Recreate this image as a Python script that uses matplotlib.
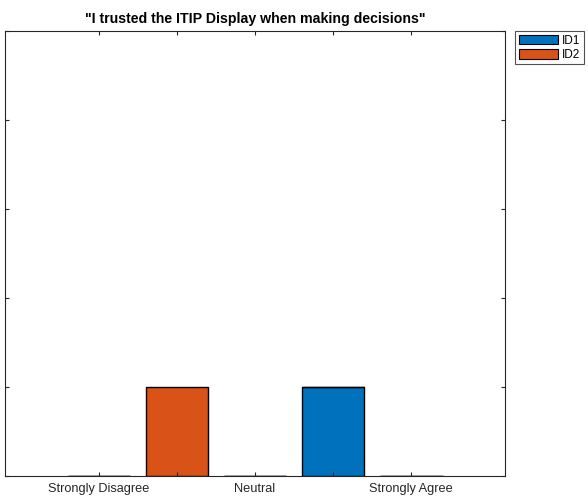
import matplotlib.pyplot as plt
from matplotlib.patches import Patch

plt.rcParams['font.family'] = ['Liberation Sans', 'DejaVu Sans']

positions = [1, 2, 3, 4, 5]
tick_labels = ['Strongly Disagree', '', 'Neutral', '', 'Strongly Agree']
id1 = [0, 0, 0, 1, 0]
id2 = [0, 1, 0, 0, 0]
series_names = ['ID1', 'ID2']
colors = ['#0072BD', '#D95319']
axis_color = '#262626'

fig = plt.figure(figsize=(5.88, 5.0), dpi=100)
ax = fig.add_axes([0.0085, 0.048, 0.8505, 0.89])

# stacked bars, MATLAB style
ax.bar(positions, id1, width=0.8, color=colors[0], edgecolor='black', linewidth=1.0)
ax.bar(positions, id2, width=0.8, bottom=id1, color=colors[1], edgecolor='black', linewidth=1.0)

ax.set_xlim(-0.2, 6.2)
ax.set_ylim(0, 5)
ax.set_xticks(positions)
ax.set_xticklabels(tick_labels, fontsize=9.2)
ax.set_yticks(range(0, 6))
ax.set_yticklabels([])
ax.tick_params(direction='in', length=3, width=0.8, color=axis_color,
               top=True, right=True, labelcolor=axis_color, pad=5)
for s in ax.spines.values():
    s.set_color(axis_color)
    s.set_linewidth(0.8)

ax.set_title('"I trusted the ITIP Display when making decisions"',
             fontsize=10.2, fontweight='bold', pad=6)

handles = [Patch(facecolor=c, edgecolor='black', linewidth=0.8) for c in colors]
leg = fig.legend(handles, series_names, loc='upper left',
                 bbox_to_anchor=(0.876, 0.938), fontsize=8.5, frameon=True,
                 fancybox=False, edgecolor=axis_color, handlelength=3.3,
                 handleheight=0.9, handletextpad=0.4, borderpad=0.3,
                 labelspacing=0.2, borderaxespad=0)
leg.get_frame().set_linewidth(0.8)

fig.savefig('out.png', dpi=100)
